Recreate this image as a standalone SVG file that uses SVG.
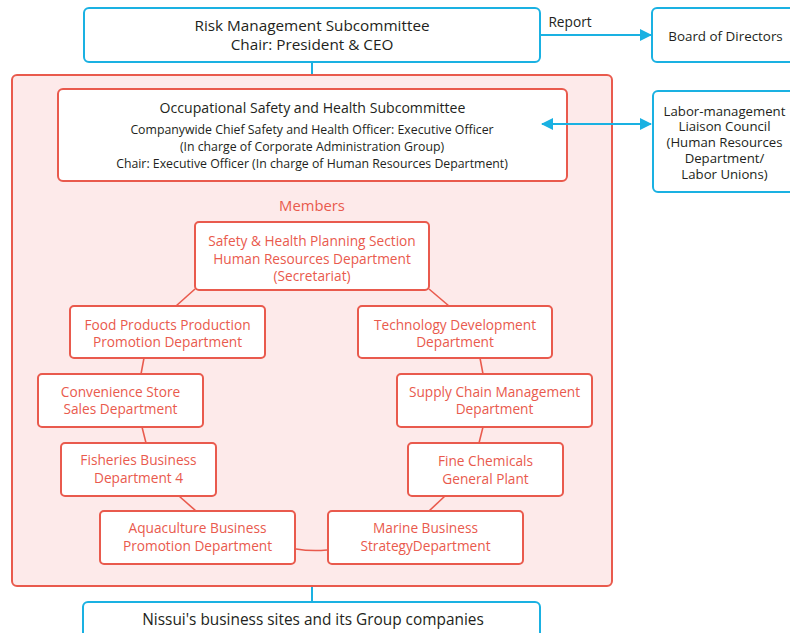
<svg xmlns="http://www.w3.org/2000/svg" width="790" height="633" viewBox="0 0 790 633">
<style>
.blue{fill:#fff;stroke:#1ab1e2;stroke-width:2}
.red{fill:#fff;stroke:#e95a4d;stroke-width:2}
.big{fill:#fdeaea;stroke:#e95a4d;stroke-width:2}
text{font-family:"Open Sans","Noto Sans",sans-serif;text-anchor:middle}
.dk{fill:#231f20}
.rt{fill:#e95a4d;font-size:13.7px}
.bl{stroke:#1ab1e2;stroke-width:2;fill:none}
.rl{stroke:#e95a4d;stroke-width:1.6;fill:none}
</style>
<defs>
<marker id="ah" viewBox="0 0 12 12" refX="11" refY="6" markerWidth="12" markerHeight="12" markerUnits="userSpaceOnUse" orient="auto-start-reverse">
<path d="M0,0 L12,6 L0,12 Z" fill="#1ab1e2"/>
</marker>
</defs>
<g id="risk"><rect class="blue" x="84" y="8" width="456" height="54" rx="5"/>
<text class="dk" x="312" y="31" font-size="15.3">Risk Management Subcommittee</text>
<text class="dk" x="312" y="50" font-size="15.3">Chair: President &amp; CEO</text></g>
<text class="dk" x="570" y="27" font-size="13.7">Report</text>
<g id="board"><rect class="blue" x="652" y="8" width="150" height="54" rx="5"/>
<text class="dk" x="725.5" y="41" font-size="13.4">Board of Directors</text></g>
<g id="members-area"><rect class="big" x="12" y="75" width="600" height="511" rx="5"/></g>
<g id="osh"><rect class="red" x="58" y="89" width="509" height="92" rx="5"/>
<text class="dk" x="312.5" y="113" font-size="14.1">Occupational Safety and Health Subcommittee</text>
<text class="dk" x="312" y="134" font-size="12.3">Companywide Chief Safety and Health Officer: Executive Officer</text>
<text class="dk" x="312" y="151" font-size="12.3">(In charge of Corporate Administration Group)</text>
<text class="dk" x="312" y="167.5" font-size="12.3">Chair: Executive Officer (In charge of Human Resources Department)</text></g>
<g id="labor"><rect class="blue" x="653" y="91" width="150" height="101" rx="5"/>
<text class="dk" x="724.5" y="115.5" font-size="13.2">Labor-management</text>
<text class="dk" x="724.5" y="131" font-size="13.2">Liaison Council</text>
<text class="dk" x="724.5" y="147" font-size="13.2">(Human Resources</text>
<text class="dk" x="724.5" y="163" font-size="13.2">Department/</text>
<text class="dk" x="724.5" y="178.5" font-size="13.2">Labor Unions)</text></g>
<text class="rt" x="312" y="210.5" style="font-size:14.8px">Members</text>
<g id="secretariat"><rect class="red" x="195" y="222" width="234" height="68" rx="4"/>
<text class="rt" x="312" y="246">Safety &amp; Health Planning Section</text>
<text class="rt" x="312" y="264">Human Resources Department</text>
<text class="rt" x="312" y="281">(Secretariat)</text></g>
<g id="food"><rect class="red" x="70" y="306" width="195" height="52" rx="4"/>
<text class="rt" x="167.5" y="330">Food Products Production</text>
<text class="rt" x="167.5" y="347">Promotion Department</text></g>
<g id="tech"><rect class="red" x="358" y="306" width="194" height="52" rx="4"/>
<text class="rt" x="455" y="330">Technology Development</text>
<text class="rt" x="455" y="347">Department</text></g>
<g id="cvs"><rect class="red" x="38" y="374" width="165" height="53" rx="4"/>
<text class="rt" x="120.5" y="396.5">Convenience Store</text>
<text class="rt" x="120.5" y="414">Sales Department</text></g>
<g id="scm"><rect class="red" x="397" y="374" width="195" height="53" rx="4"/>
<text class="rt" x="494.5" y="396.5">Supply Chain Management</text>
<text class="rt" x="494.5" y="414">Department</text></g>
<g id="fish"><rect class="red" x="61" y="443" width="155" height="53" rx="4"/>
<text class="rt" x="138.5" y="465">Fisheries Business</text>
<text class="rt" x="138.5" y="482.5">Department 4</text></g>
<g id="fine"><rect class="red" x="408" y="443" width="155" height="53" rx="4"/>
<text class="rt" x="485.5" y="466">Fine Chemicals</text>
<text class="rt" x="485.5" y="483.5">General Plant</text></g>
<g id="aqua"><rect class="red" x="100" y="511" width="195" height="53" rx="4"/>
<text class="rt" x="197.5" y="533">Aquaculture Business</text>
<text class="rt" x="197.5" y="550.5">Promotion Department</text></g>
<g id="marine"><rect class="red" x="328" y="511" width="195" height="53" rx="4"/>
<text class="rt" x="425.5" y="533">Marine Business</text>
<text class="rt" x="425.5" y="550.5">StrategyDepartment</text></g>
<g id="sites"><rect class="blue" x="83" y="602" width="457" height="50" rx="5"/>
<text class="dk" x="313" y="625" font-size="15.4">Nissui's business sites and its Group companies</text></g>
<g id="connectors">
<line class="bl" x1="312" y1="63" x2="312" y2="74"/>
<line class="bl" x1="312" y1="587" x2="312" y2="601"/>
<line class="bl" x1="541" y1="35" x2="651" y2="35" marker-end="url(#ah)"/>
<line class="bl" x1="542" y1="124" x2="651" y2="124" marker-start="url(#ah)" marker-end="url(#ah)"/>
<line class="rl" x1="195" y1="289" x2="176" y2="306"/>
<line class="rl" x1="429" y1="289" x2="449" y2="306"/>
<line class="rl" x1="144" y1="358" x2="141" y2="374"/>
<line class="rl" x1="480" y1="358" x2="483" y2="374"/>
<line class="rl" x1="142" y1="427" x2="146" y2="443"/>
<line class="rl" x1="483" y1="427" x2="479" y2="443"/>
<line class="rl" x1="179" y1="496" x2="196" y2="511"/>
<line class="rl" x1="445" y1="496" x2="429" y2="511"/>
<path class="rl" d="M296,549 Q311,551.5 327,550"/>
</g>
</svg>
